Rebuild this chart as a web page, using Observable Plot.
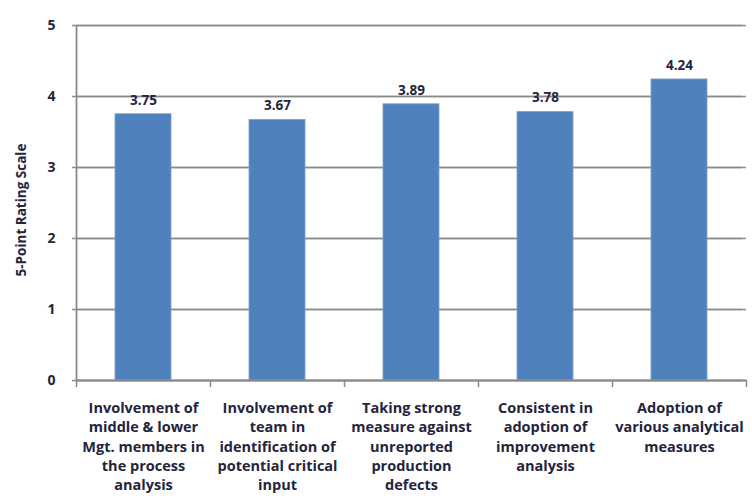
<!DOCTYPE html>
<html><head><meta charset="utf-8">
<script src="https://cdn.jsdelivr.net/npm/d3@7"></script>
<script src="https://cdn.jsdelivr.net/npm/@observablehq/plot@0.6"></script>
<style>body{margin:0;background:#fff}</style>
</head><body><div id="chart"></div>
<script>
const categories = [
  "Involvement of\nmiddle & lower\nMgt. members in\nthe process\nanalysis",
  "Involvement of\nteam in\nidentification of\npotential critical\ninput",
  "Taking strong\nmeasure against\nunreported\nproduction\ndefects",
  "Consistent in\nadoption of\nimprovement\nanalysis",
  "Adoption of\nvarious analytical\nmeasures"
];
const values = [3.75, 3.67, 3.89, 3.78, 4.24];
const yTicks = [0, 1, 2, 3, 4, 5];
const data = categories.map((c, i) => ({c, v: values[i]}));

const W = 752, H = 502, mL = 76, mR = 6;
const half = (W - mL - mR) / categories.length / 2;
const font = "Open Sans, sans-serif";
const txt = "#24243c";

const chart = Plot.plot({
  width: W, height: H,
  marginLeft: mL, marginRight: mR, marginTop: 25, marginBottom: 122,
  style: {fontFamily: font, background: "#fff"},
  x: {domain: categories, paddingInner: 0.58, paddingOuter: 0.29, label: null},
  y: {domain: [0, 5], label: null},
  marks: [
    Plot.gridY(yTicks, {stroke: "#8a8a8a", strokeOpacity: 1, strokeWidth: 1.3}),
    Plot.tickY(yTicks, {y: d => d, stroke: "#8a8a8a", strokeWidth: 1.3, dx: -4}),
    Plot.barY(data, {x: "c", y: "v", fill: "#4F81BD", stroke: "#7aa0cc", strokeWidth: 0.8}),
    Plot.ruleX(data, {x: "c", dx: -half, y1: 0, y2: 0, insetBottom: -7, stroke: "#8a8a8a", strokeWidth: 1.5}),
    Plot.ruleX([data[data.length-1]], {x: "c", dx: half, y1: 0, y2: 0, insetBottom: -7, stroke: "#8a8a8a", strokeWidth: 1.5}),
    Plot.ruleY([0], {stroke: "#8a8a8a", strokeWidth: 1.8}),
    Plot.ruleX([0], {x: () => categories[0], dx: -half, stroke: "#8a8a8a", strokeWidth: 1.8, y1: 0, y2: 5}),
    Plot.text(data, {x: "c", y: "v", text: d => d.v.toFixed(2), dy: -14, fontSize: 13.5, fontWeight: "bold", fill: txt}),
    Plot.axisY(yTicks, {tickSize: 0, tickPadding: 21, tickFormat: d3.format("d"), fontSize: 14, fontWeight: "bold", fill: txt, label: null}),
    Plot.axisX({tickSize: 0, tickPadding: 19, fontSize: 14.5, fontWeight: "bold", fill: txt, lineHeight: 1.33, textAnchor: "middle", lineAnchor: "top", label: null}),
    Plot.text(["5-Point Rating Scale"], {frameAnchor: "left", textAnchor: "middle", dx: -55, dy: 7, rotate: -90, fontSize: 13.5, fontWeight: "bold", fill: txt})
  ]
});
document.getElementById("chart").appendChild(chart);
</script>
</body></html>
